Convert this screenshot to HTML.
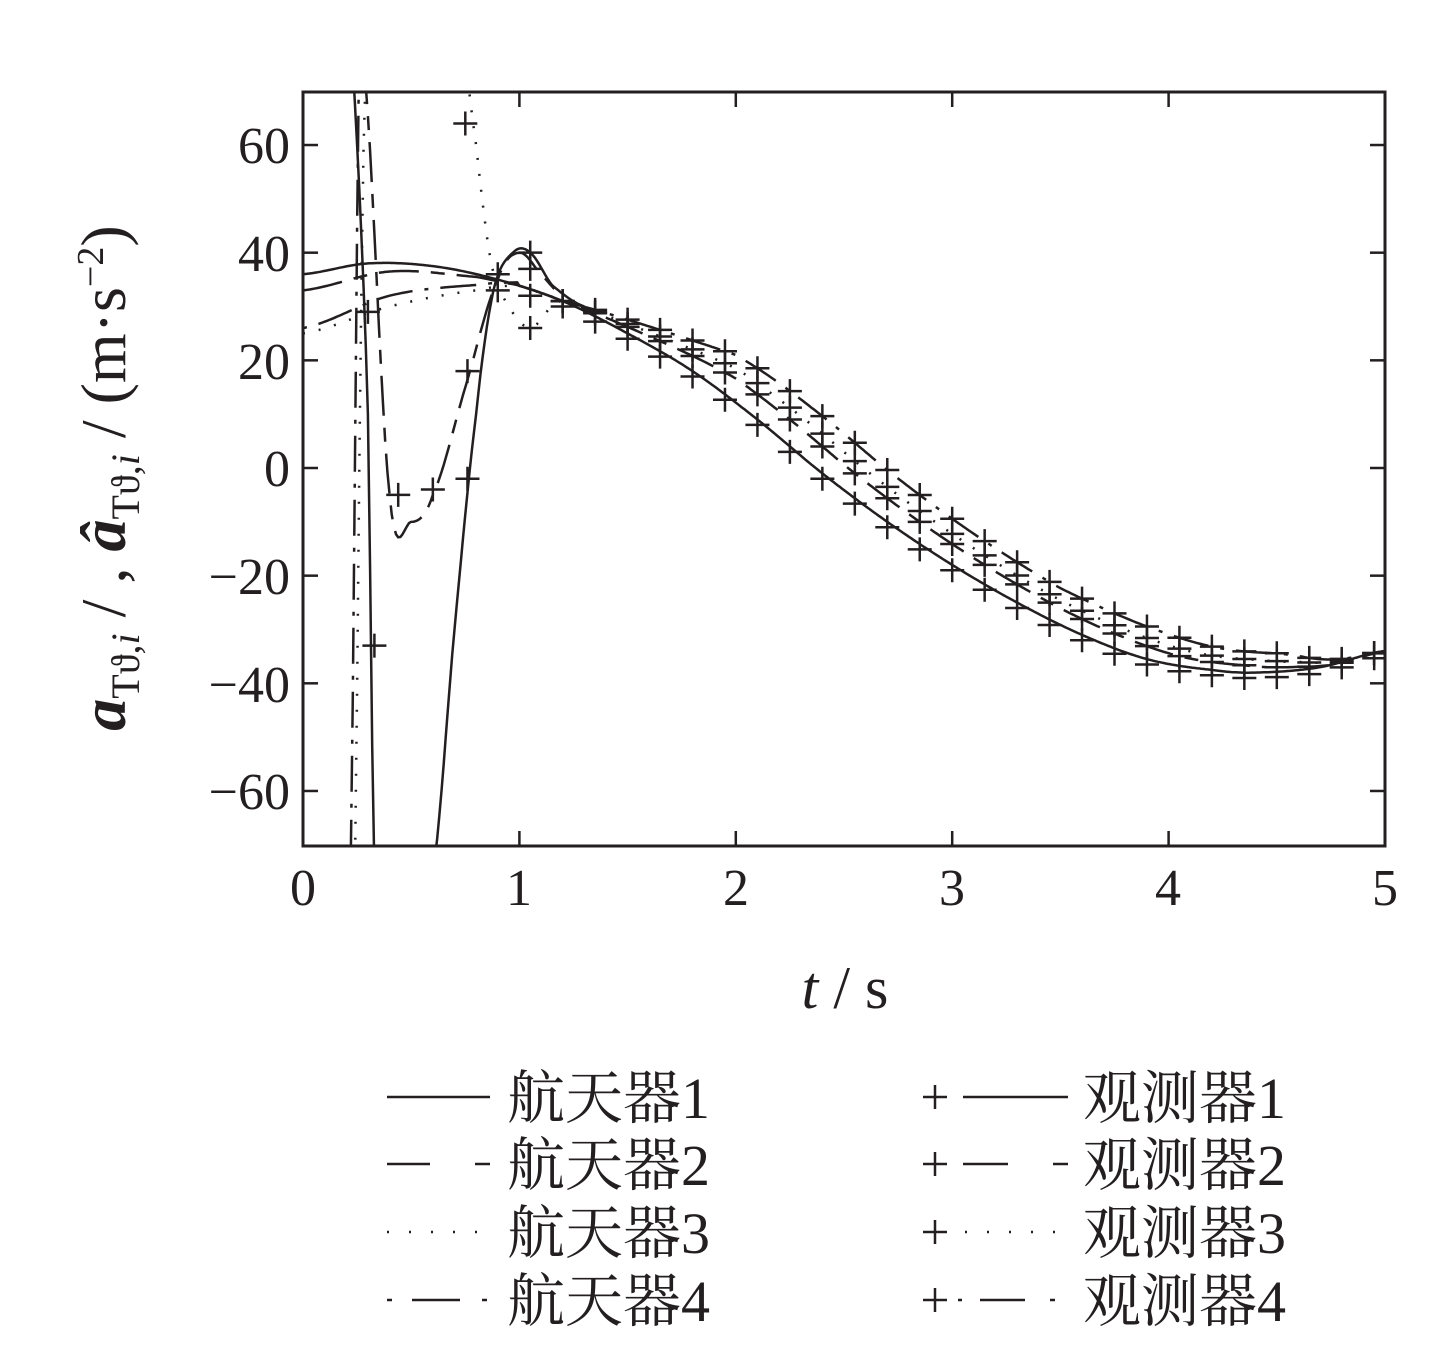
<!DOCTYPE html>
<html><head><meta charset="utf-8"><style>
body{margin:0;background:#fff;}
svg text{font-family:"Liberation Serif","Noto Serif CJK SC",serif;fill:#231f20;}
</style></head><body>
<svg id="s" width="1454" height="1357" xmlns="http://www.w3.org/2000/svg">
<defs><clipPath id="c"><rect x="303" y="92" width="1082" height="754"/></clipPath></defs>
<g id="plot" clip-path="url(#c)" fill="none" stroke="#231f20" stroke-width="2.5"></g>
<rect x="303" y="92" width="1082" height="754" fill="none" stroke="#231f20" stroke-width="3"/>
<g id="ticks" stroke="#231f20" stroke-width="2.5"></g>
<g font-size="52" text-anchor="end">
<text x="290" y="163">60</text><text x="290" y="271">40</text><text x="290" y="379">20</text>
<text x="290" y="486">0</text><text x="290" y="594">−20</text><text x="290" y="702">−40</text><text x="290" y="809">−60</text>
</g>
<g font-size="52" text-anchor="middle">
<text x="303" y="905">0</text><text x="519" y="905">1</text><text x="736" y="905">2</text>
<text x="952" y="905">3</text><text x="1168" y="905">4</text><text x="1385" y="905">5</text>
</g>
<text x="845" y="1008" font-size="60" text-anchor="middle"><tspan font-style="italic">t</tspan> / s</text>
<text transform="translate(125,478) rotate(-90)" font-size="64" text-anchor="middle"><tspan font-style="italic" font-weight="bold">a</tspan><tspan font-size="40" dy="14">Tϑ,<tspan font-style="italic">i</tspan></tspan><tspan dy="-14"> / , </tspan><tspan font-style="italic" font-weight="bold">â</tspan><tspan font-size="40" dy="14">Tϑ,<tspan font-style="italic">i</tspan></tspan><tspan dy="-14"> / (m·s</tspan><tspan font-size="38" dy="-22">−2</tspan><tspan dy="22">)</tspan></text>
<g stroke="#231f20" stroke-width="2.5" fill="none">
<line x1="387" y1="1097" x2="490" y2="1097"/>
<line x1="387" y1="1164" x2="430" y2="1164" /><line x1="475" y1="1164" x2="490" y2="1164"/>
<line x1="387" y1="1232" x2="490" y2="1232" stroke-dasharray="2 20"/>
<line x1="387" y1="1300" x2="392" y2="1300"/><line x1="412" y1="1300" x2="460" y2="1300"/><line x1="482" y1="1300" x2="487" y2="1300"/>
<path d="M923 1097h24M935 1085v24M963 1097h105"/>
<path d="M923 1164h24M935 1152v24M963 1164h45M1053 1164h15"/>
<path d="M923 1232h24M935 1220v24"/><line x1="965" y1="1232" x2="1068" y2="1232" stroke-dasharray="2 20"/>
<path d="M923 1300h24M935 1288v24M958 1300h4M980 1300h45M1050 1300h5"/>
</g>
<g font-size="58">
<text x="507" y="1118">航天器1</text><text x="507" y="1185">航天器2</text>
<text x="507" y="1253">航天器3</text><text x="507" y="1321">航天器4</text>
<text x="1083" y="1118">观测器1</text><text x="1083" y="1185">观测器2</text>
<text x="1083" y="1253">观测器3</text><text x="1083" y="1321">观测器4</text>
</g>
</svg>
<script>
var X=t=>303+216.4*t, Y=v=>468-5.383*v;
var NS="http://www.w3.org/2000/svg";
function el(p,tag,a){var e=document.createElementNS(NS,tag);for(var k in a)e.setAttribute(k,a[k]);p.appendChild(e);return e;}
var tk=document.getElementById('ticks');
[-60,-40,-20,0,20,40,60].forEach(v=>{el(tk,'line',{x1:303,x2:318,y1:Y(v),y2:Y(v)});el(tk,'line',{x1:1370,x2:1385,y1:Y(v),y2:Y(v)});});
[1,2,3,4].forEach(t=>{el(tk,'line',{x1:X(t),x2:X(t),y1:92,y2:107});el(tk,'line',{x1:X(t),x2:X(t),y1:831,y2:846});});
var base=[[0,36],[0.3,38],[0.6,37.5],[0.9,35],[1.2,31],[1.5,25],[1.8,18],[2.1,9],[2.4,-1],[2.7,-10],[3,-18],[3.3,-25],[3.6,-31],[3.9,-35.5],[4.2,-37.5],[4.4,-38],[4.7,-37],[5,-34]];
function interp(pts,t){if(t<=pts[0][0])return pts[0][1];for(var i=0;i<pts.length-1;i++){if(t<=pts[i+1][0]){var p0=pts[Math.max(i-1,0)],p1=pts[i],p2=pts[i+1],p3=pts[Math.min(i+2,pts.length-1)];var u=(t-p1[0])/(p2[0]-p1[0]);var m1=(p2[1]-p0[1])/2,m2=(p3[1]-p1[1])/2;var u2=u*u,u3=u2*u;return (2*u3-3*u2+1)*p1[1]+(u3-2*u2+u)*m1+(-2*u3+3*u2)*p2[1]+(u3-u2)*m2;}}return pts[pts.length-1][1];}
function g(t,sh,up){if(t<1.2)return interp(base,t);var tt=Math.max(1.0,t-sh*Math.min(1,(t-1.2)/0.8));var v=interp(base,tt);var w=Math.min(1,Math.max(0,(t-3.5)/1.0));v+=up*w;if(t>4.6){var q=(t-4.6)/0.4;v=v*(1-q)+interp(base,t)*q;}return v;}
var curves=[];
curves[0]=t=>interp(base,t);
curves[1]=t=>t<1?interp([[0,33],[0.4,36.5],[0.8,35.5],[1,34]],t):g(t,0.15,1);
curves[2]=t=>t<1?interp([[0,25],[0.4,30],[0.8,33],[1,34]],t):g(t,0.22,2);
curves[3]=t=>t<1?interp([[0,26],[0.4,32],[0.8,34],[1,34.5]],t):g(t,0.32,3);
var dash=["",  "40 12 14 12","2 14","4 12 36 12"];
var plot=document.getElementById('plot');
function poly(f,t0,t1,da){var d="";for(var t=t0;t<=t1+1e-9;t+=0.01){d+=(d?"L":"M")+X(t).toFixed(1)+" "+Y(f(t)).toFixed(1);}el(plot,'path',{d:d,'stroke-dasharray':da});}
for(var k=0;k<4;k++)poly(curves[k],0,5,dash[k]);
var obsPre=[0,[[0.28,75],[0.4,-5],[0.5,-10],[0.6,-5],[0.75,15],[0.9,35],[1.0,40],[1.1,36],[1.2,32]],0,[[0.7,90],[0.8,60],[0.87,38],[0.95,30],[1.05,26],[1.15,30],[1.25,32]]];
poly(t=>interp([[0.2,90],[0.25,60],[0.3,10],[0.33,-75]],t),0.2,0.33,"");
poly(t=>interp([[0.6,-75],[0.7,-30],[0.8,10],[0.88,33],[0.97,40],[1.05,40],[1.15,34],[1.3,30]],t),0.6,1.3,"");
poly(t=>interp(obsPre[1],t),0.28,1.2,dash[1]);
poly(t=>interp([[0.24,-75],[0.26,0],[0.28,60],[0.3,80]],t),0.24,0.3,dash[2]);
poly(t=>interp([[0.22,-75],[0.24,0],[0.26,80]],t),0.22,0.26,dash[3]);
poly(t=>interp(obsPre[3],t),0.7,1.25,dash[2]);
function plus(t,v){var x=X(t),y=Y(v);el(plot,'path',{d:"M"+(x-12)+" "+y+"h24M"+x+" "+(y-12)+"v24",'stroke-dasharray':""});}
for(var k=0;k<4;k++){for(var t=1.2;t<=5.01;t+=0.15){plus(t,curves[k](t)+ (k==0?-1:0));}}
[[0.3,29],[0.33,-33],[0.44,-5],[0.6,-4],[0.76,-2],[0.76,18],[0.9,33],[0.9,36],[1.05,40],[1.05,37],[1.05,32],[1.05,26],[0.75,64]].forEach(p=>plus(p[0],p[1]));
</script>
</body></html>
